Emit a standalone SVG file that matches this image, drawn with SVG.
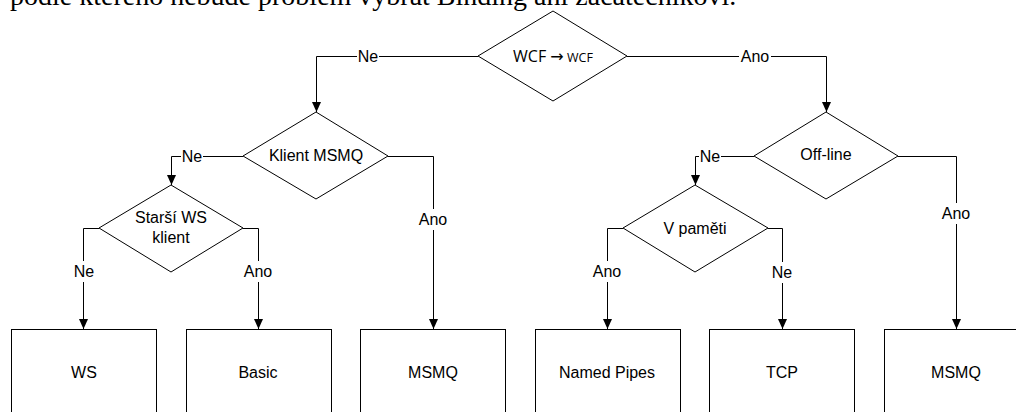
<svg xmlns="http://www.w3.org/2000/svg" width="1016" height="412" viewBox="0 0 1016 412">
<style>
.shape{fill:#fff;stroke:#000;stroke-width:1}
.edge{fill:none;stroke:#000;stroke-width:1}
.lbl{font-family:"Liberation Sans",Arial,sans-serif;font-size:16px;fill:#000;text-anchor:middle}
.bg{fill:#fff;stroke:none}
</style>
<defs>
<marker id="arr" markerUnits="userSpaceOnUse" markerWidth="10" markerHeight="10" viewBox="0 0 10 10" refX="10" refY="5" orient="auto">
<path d="M0,0.5 L10,5 L0,9.5 z" fill="#000"/>
</marker>
</defs>
<rect width="1016" height="412" fill="#fff"/>
<text x="10" y="5" font-family="'Liberation Serif','Times New Roman',serif" font-size="28" fill="#000">podle kterého nebude problém vybrat Binding ani začátečníkovi.</text>

<g id="connectors">
<path class="edge" d="M478,56.5 H316.5 V112" marker-end="url(#arr)"/>
<path class="edge" d="M627,56.5 H826.5 V112" marker-end="url(#arr)"/>
<path class="edge" d="M243,156.5 H171.5 V185" marker-end="url(#arr)"/>
<path class="edge" d="M388,156.5 H433.5 V329" marker-end="url(#arr)"/>
<path class="edge" d="M99,228.5 H83.5 V329" marker-end="url(#arr)"/>
<path class="edge" d="M243,228.5 H258.5 V329" marker-end="url(#arr)"/>
<path class="edge" d="M754,156.5 H695.5 V185" marker-end="url(#arr)"/>
<path class="edge" d="M898,156.5 H956.5 V329" marker-end="url(#arr)"/>
<path class="edge" d="M623,228.5 H607.5 V329" marker-end="url(#arr)"/>
<path class="edge" d="M768,228.5 H782.5 V329" marker-end="url(#arr)"/>
<rect class="bg" x="357" y="48" width="22" height="17"/>
<text class="lbl" x="368" y="62">Ne</text>
<rect class="bg" x="739" y="48" width="32" height="17"/>
<text class="lbl" x="755" y="62">Ano</text>
<rect class="bg" x="181" y="148" width="22" height="17"/>
<text class="lbl" x="192" y="162">Ne</text>
<rect class="bg" x="699" y="148" width="22" height="17"/>
<text class="lbl" x="710" y="162">Ne</text>
<rect class="bg" x="417" y="209" width="32" height="21"/>
<text class="lbl" x="433" y="225">Ano</text>
<rect class="bg" x="940" y="203" width="32" height="21"/>
<text class="lbl" x="956" y="219">Ano</text>
<rect class="bg" x="72" y="261" width="24" height="21"/>
<text class="lbl" x="84" y="277">Ne</text>
<rect class="bg" x="242" y="261" width="32" height="21"/>
<text class="lbl" x="258" y="277">Ano</text>
<rect class="bg" x="591" y="261" width="32" height="21"/>
<text class="lbl" x="607" y="277">Ano</text>
<rect class="bg" x="770" y="262" width="24" height="21"/>
<text class="lbl" x="782" y="278">Ne</text>
</g>

<g id="d-wcf">
<polygon class="shape" points="553,11 627,56 553,101 478,56"/>
<text class="lbl" x="553" y="62"><tspan font-family="'Open Sans','Liberation Sans',sans-serif" font-size="16">WCF </tspan><tspan font-family="'DejaVu Sans',sans-serif" font-size="16">→</tspan><tspan font-family="'Open Sans','Liberation Sans',sans-serif" font-size="12.5"> WCF</tspan></text>
</g>
<g id="d-klient">
<polygon class="shape" points="316,112 388,156 316,199 243,156"/>
<text class="lbl" x="316" y="161">Klient MSMQ</text>
</g>
<g id="d-starsi">
<polygon class="shape" points="171,185 243,228 171,272 99,228"/>
<text class="lbl" x="171" y="223">Starší WS</text>
<text class="lbl" x="171" y="243">klient</text>
</g>
<g id="d-offline">
<polygon class="shape" points="826,112 898,156 826,199 754,156"/>
<text class="lbl" x="826" y="160">Off-line</text>
</g>
<g id="d-pameti">
<polygon class="shape" points="695,185 768,228 695,272 623,228"/>
<text class="lbl" x="695" y="234">V paměti</text>
</g>

<g id="b-ws"><rect class="shape" x="11.5" y="329.5" width="145" height="100"/><text class="lbl" x="84" y="378">WS</text></g>
<g id="b-basic"><rect class="shape" x="186.5" y="329.5" width="145" height="100"/><text class="lbl" x="258" y="378">Basic</text></g>
<g id="b-msmq1"><rect class="shape" x="360.5" y="329.5" width="145" height="100"/><text class="lbl" x="433" y="378">MSMQ</text></g>
<g id="b-pipes"><rect class="shape" x="535.5" y="329.5" width="145" height="100"/><text class="lbl" x="607" y="378">Named Pipes</text></g>
<g id="b-tcp"><rect class="shape" x="709.5" y="329.5" width="145" height="100"/><text class="lbl" x="782" y="378">TCP</text></g>
<g id="b-msmq2"><rect class="shape" x="884.5" y="329.5" width="145" height="100"/><text class="lbl" x="956" y="378">MSMQ</text></g>
</svg>
